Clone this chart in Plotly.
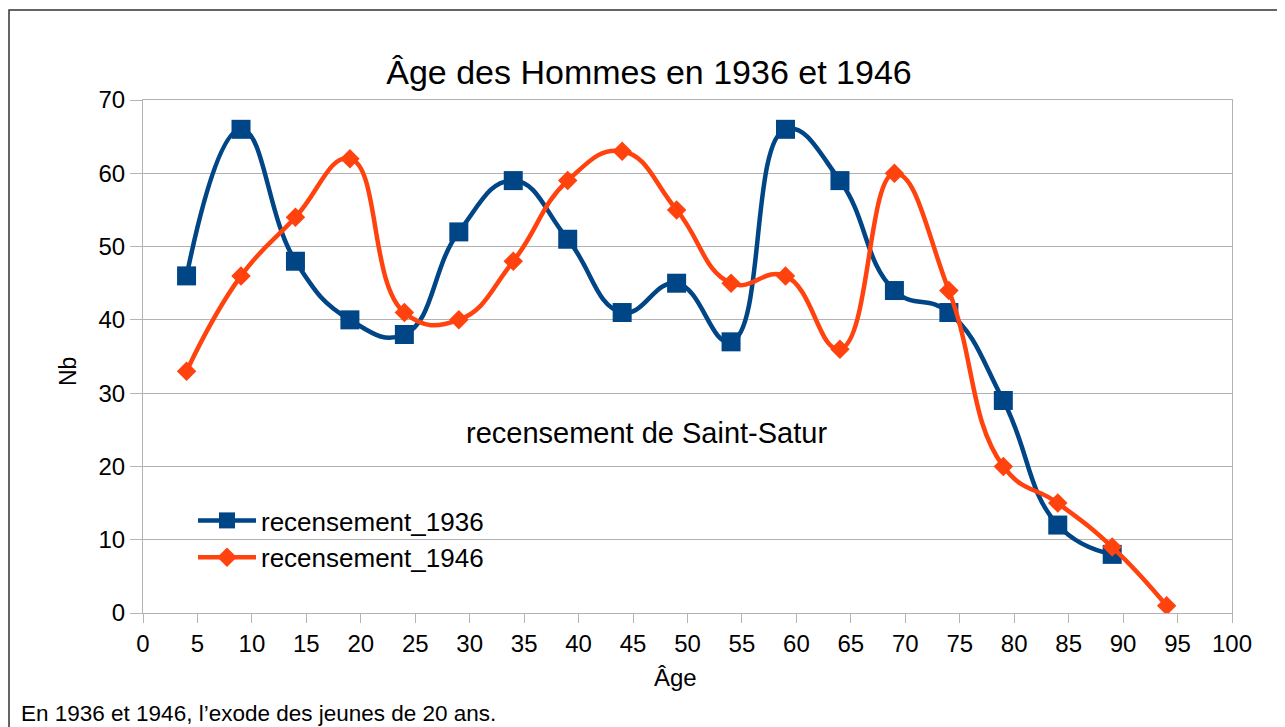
import plotly.graph_objects as go

ages_1936 = [4, 9, 14, 19, 24, 29, 34, 39, 44, 49, 54, 59, 64, 69, 74, 79, 84, 89]
nb_1936 = [46, 66, 48, 40, 38, 52, 59, 51, 41, 45, 37, 66, 59, 44, 41, 29, 12, 8]

ages_1946 = [4, 9, 14, 19, 24, 29, 34, 39, 44, 49, 54, 59, 64, 69, 74, 79, 84, 89, 94]
nb_1946 = [33, 46, 54, 62, 41, 40, 48, 59, 63, 55, 45, 46, 36, 60, 44, 20, 15, 9, 1]

x_ticks = list(range(0, 101, 5))
y_ticks = list(range(0, 71, 10))

BLUE = "#004586"
ORANGE = "#ff420e"
GRID = "#b3b3b3"
FONT = "Liberation Sans, Arial, sans-serif"

# the page body has an 8px margin: the figure is sized so that page = 1285x727
W, H = 1277, 719
OFF = 8

fig = go.Figure()
fig.add_trace(go.Scatter(
    x=ages_1936, y=nb_1936, name="recensement_1936", mode="lines+markers",
    line=dict(color=BLUE, width=4.5, shape="spline", smoothing=1.3),
    marker=dict(symbol="square", size=19, color=BLUE),
))
fig.add_trace(go.Scatter(
    x=ages_1946, y=nb_1946, name="recensement_1946", mode="lines+markers",
    line=dict(color=ORANGE, width=4.5, shape="spline", smoothing=1.3),
    marker=dict(symbol="diamond", size=15, color=ORANGE),
))

# plot area in screenshot pixels: x 143..1232, y 100..613
fig.update_layout(
    width=W, height=H,
    margin=dict(l=143 - OFF, r=53, t=100 - OFF, b=114),
    paper_bgcolor="white", plot_bgcolor="white",
    font=dict(family=FONT, size=24, color="black"),
    title=dict(text="Âge des Hommes en 1936 et 1946", x=(649 - OFF) / W, xanchor="center",
               y=1 - (72 - OFF) / H, yanchor="middle", yref="container",
               font=dict(size=34, family=FONT, color="black")),
    showlegend=True,
    legend=dict(x=(193 - 143) / 1089, y=(613 - 497) / 513, xanchor="left", yanchor="top",
                bgcolor="rgba(0,0,0,0)", itemwidth=58,
                font=dict(size=26, family=FONT, color="black")),
    xaxis=dict(range=[0, 100], tickvals=x_ticks, showgrid=False, zeroline=False,
               showline=True, linecolor=GRID, linewidth=1, mirror=True,
               ticks="outside", ticklen=9, tickcolor=GRID, tickwidth=1,
               tickfont=dict(size=24)),
    yaxis=dict(range=[0, 70], tickvals=y_ticks, showgrid=True, gridcolor=GRID, gridwidth=1,
               zeroline=False, showline=True, linecolor=GRID, linewidth=1, mirror=True,
               ticks="outside", ticklen=12, tickcolor=GRID, tickwidth=1,
               tickfont=dict(size=24)),
)

fig.add_annotation(text="recensement de Saint-Satur", x=46.2, y=24.6, xref="x", yref="y",
                   showarrow=False, font=dict(size=29))
fig.add_annotation(text="Âge", x=(675 - 143) / 1089, y=(613 - 677) / 513, xref="paper", yref="paper",
                   showarrow=False, font=dict(size=24), xanchor="center", yanchor="middle")
fig.add_annotation(text="Nb", x=(68 - 143) / 1089, y=(613 - 372) / 513, xref="paper", yref="paper",
                   showarrow=False, font=dict(size=23), textangle=-90, xanchor="center", yanchor="middle")
fig.add_annotation(text="En 1936 et 1946, l’exode des jeunes de 20 ans.",
                   x=(19 - 143) / 1089, y=(613 - 713) / 513, xref="paper", yref="paper",
                   showarrow=False, font=dict(size=22.5), xanchor="left", yanchor="middle")

fig.add_shape(type="rect", xref="paper", yref="paper",
              x0=(9 - 143) / 1089, x1=(1400 - 143) / 1089,
              y0=(613 - 800) / 513, y1=(613 - 10) / 513,
              line=dict(color="#333333", width=1.5), fillcolor="rgba(0,0,0,0)", layer="below")

fig.write_html("out.html")
